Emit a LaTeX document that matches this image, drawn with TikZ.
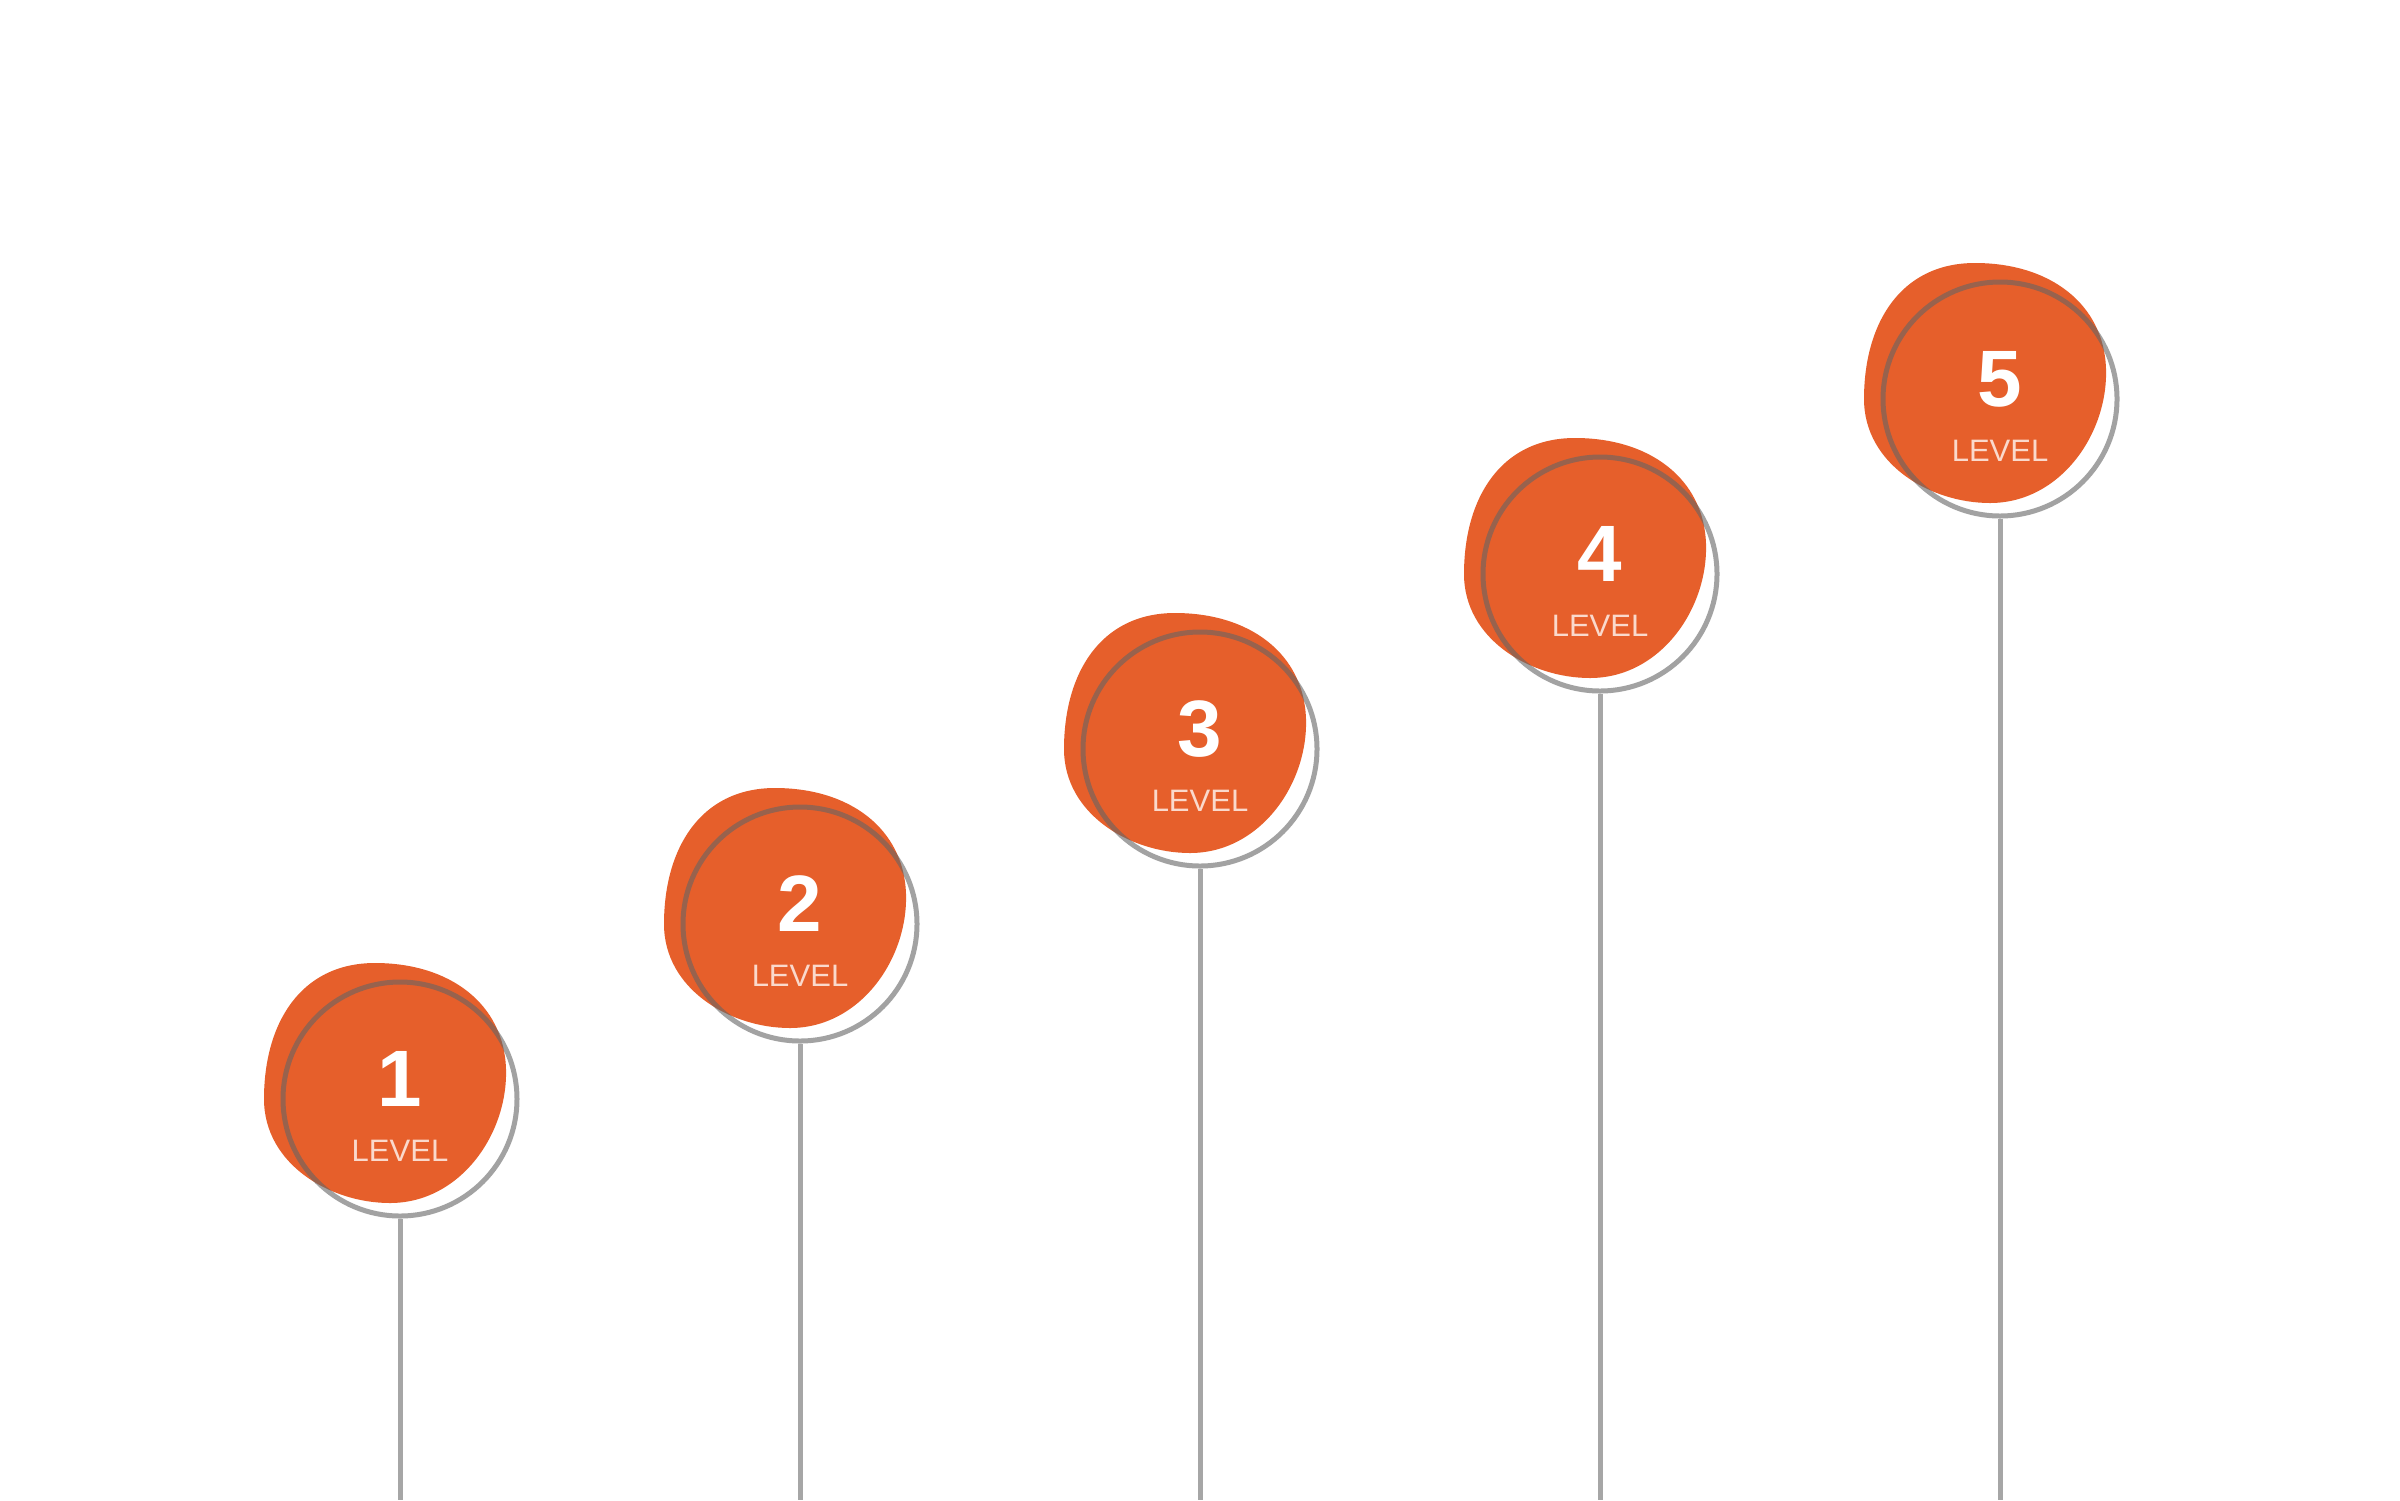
\documentclass[tikz,border=0pt]{standalone}
\usepackage{fontspec}
\setmainfont{Liberation Sans}
\definecolor{blobc}{HTML}{E65F2B}
\definecolor{ringc}{HTML}{646464}
\definecolor{linec}{HTML}{A6A6A6}
\definecolor{lvlc}{HTML}{FAD9CC}
\begin{document}
\begin{tikzpicture}[x=1pt,y=-1pt,
 ring/.style={circle,draw=ringc,draw opacity=0.6,line width=5pt,minimum size=234pt,inner sep=0pt},
 stem/.style={draw=linec,line width=5pt},
 blob/.style={fill=blobc},
 num/.style={text=white,font=\fontsize{80}{80}\selectfont\bfseries,anchor=base,inner sep=0pt},
 lvl/.style={text=lvlc,font=\fontsize{31}{31}\selectfont,anchor=base,inner sep=0pt}]
\useasboundingbox (0,0) rectangle (2400,1500);
\fill[white] (0,0) rectangle (2400,1500);
\foreach \i in {1,...,5}{
 \pgfmathsetmacro{\cx}{400*\i}
 \pgfmathsetmacro{\cy}{1274-175*\i}
 \begin{scope}[shift={(\cx,\cy)}]
  \fill[blob] (-136,0) .. controls (-136,-75) and (-100,-136) .. (-25,-136)
   .. controls (50,-136) and (104,-95) .. (106,-30)
   .. controls (108,35) and (60,104) .. (-10,104)
   .. controls (-70,104) and (-136,65) .. (-136,0) -- cycle;
  \node[ring] (c\i) at (0,0) {};
  \node[num] (n\i) at (0,7) {\i};
  \node[lvl] (l\i) at (0,62) {LEVEL};
 \end{scope}
 \coordinate (b\i) at (\cx,1500);
 \draw[stem] (c\i.south) -- (b\i);
}
\end{tikzpicture}
\end{document}
